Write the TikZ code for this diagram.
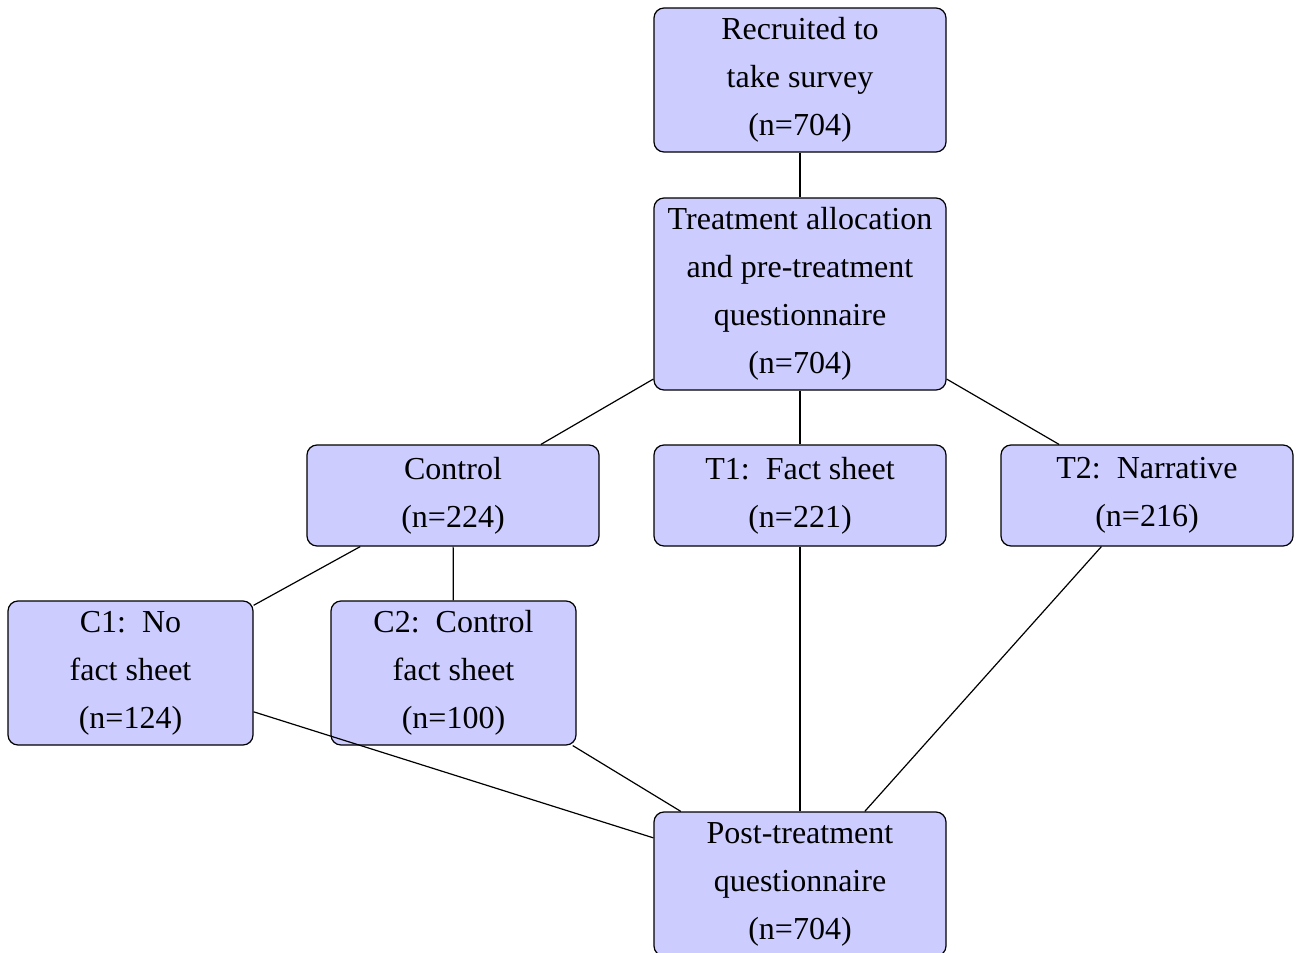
\documentclass[tikz,border=0pt]{standalone}
\usepackage{fontspec}
\setmainfont{Liberation Serif}
\begin{document}
\begin{tikzpicture}[x=0.25pt,y=-0.25pt,
  box/.style={draw, fill=blue!20, rounded corners=2.5pt, line width=0.3pt,
    align=center, inner sep=0pt, minimum width=#1*0.25pt,
    font=\fontsize{8}{12}\selectfont},
  box/.default=292,
  link/.style={line width=0.3pt}]
\useasboundingbox (0,0) rectangle (1298,953);
\node[box, minimum height=36pt] (top) at (800,80) {Recruited to\\take survey\\(n=704)};
\node[box, minimum height=48pt] (treat) at (800,294) {Treatment allocation\\and pre-treatment\\questionnaire\\(n=704)};
\node[box, minimum height=25.25pt] (ctrl) at (453,495.5) {Control\\(n=224)};
\node[box, minimum height=25.25pt] (t1) at (800,495.5) {T1:\ \ Fact sheet\\(n=221)};
\node[box, minimum height=25.25pt] (t2) at (1147,495.5) {T2:\ \ Narrative\\(n=216)};
\node[box=245, minimum height=36pt] (c1) at (130.5,673) {C1:\ \ No\\fact sheet\\(n=124)};
\node[box=245, minimum height=36pt] (c2) at (453.5,673) {C2:\ \ Control\\fact sheet\\(n=100)};
\node[box, minimum height=36pt] (post) at (800,884) {Post-treatment\\questionnaire\\(n=704)};
\draw[link] (top) -- (treat);
\draw[link] (treat) -- (ctrl);
\draw[link] (treat) -- (t1);
\draw[link] (treat) -- (t2);
\draw[link] (ctrl) -- (c1);
\draw[link] (ctrl) -- (c2);
\draw[link] (c1) -- (post);
\draw[link] (c2) -- (post);
\draw[link] (t1) -- (post);
\draw[link] (t2) -- (post);
\end{tikzpicture}
\end{document}
